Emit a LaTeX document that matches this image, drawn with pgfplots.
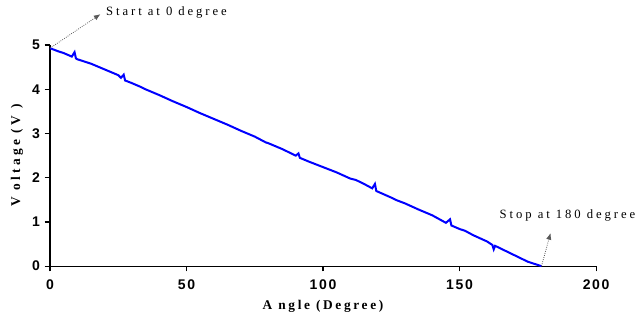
\documentclass[border=0pt]{standalone}
\usepackage{fontspec}
\setmainfont{Liberation Serif}
\newfontfamily\arialbf{Liberation Sans Bold}
\usepackage{pgfplots}
\pgfplotsset{compat=1.18}
\usetikzlibrary{arrows.meta}
\begin{document}
\begin{tikzpicture}
\begin{axis}[
  scale only axis,
  width=409.5pt, height=165.75pt,
  xmin=0, xmax=200, ymin=0, ymax=5,
  axis x line*=bottom, axis y line*=left,
  axis line style={line width=0.9pt, -},
  xtick={0,50,...,200}, ytick={0,1,...,5},
  tick align=outside, major tick length=4pt,
  tick style={line width=0.9pt, black},
  /pgf/number format/assume math mode=true,
  yticklabel style={font=\arialbf\fontsize{10.5}{12}\selectfont},
  xticklabel style={font=\arialbf\fontsize{10.5}{12}\selectfont\addfontfeatures{LetterSpace=12}, yshift=-3pt},
  xlabel={\bfseries\addfontfeatures{LetterSpace=20}A ngle (Degree)},
  ylabel={\bfseries\addfontfeatures{LetterSpace=25}V oltage (V )},
  label style={font=\fontsize{10}{12}\selectfont},
  xlabel style={yshift=-1pt},
  ylabel style={yshift=0pt},
  clip=false,
]
\addplot[color={rgb,255:red,0;green,0;blue,255}, line width=1.5pt] coordinates {
(0,4.93) (3,4.86) (5,4.82) (8,4.74) (9,4.84) (9.5,4.70) (10,4.68) (12,4.64) (15,4.58) (20,4.45)
(25,4.32) (26,4.26) (27,4.33) (27.5,4.20) (30,4.14) (33,4.06) (35,4.00) (40,3.87)
(45,3.73) (50,3.60) (55,3.46) (60,3.33) (65,3.20) (70,3.06) (75,2.93)
(79,2.80) (80,2.78) (85,2.65) (90,2.50) (91,2.55) (91.5,2.45) (95,2.36) (100,2.24)
(105,2.12) (110,1.98) (112,1.95) (115,1.86) (118,1.76) (119,1.86) (119.5,1.70)
(125,1.55) (127,1.49) (130,1.42) (135,1.28) (140,1.15) (145,0.98) (146.5,1.06)
(147,0.92) (150,0.84) (152,0.80) (155,0.70) (160,0.56) (162,0.48) (162.5,0.38)
(163,0.46) (165,0.40) (170,0.25) (175,0.10) (180,0.0)
};
\draw[densely dotted, gray!70!black, line width=0.6pt, -{Latex[length=5pt,width=4pt]}] (axis cs:0,4.93) -- (axis cs:18.5,5.70);
\node[anchor=west, font=\fontsize{9.5}{11}\selectfont\addfontfeatures{LetterSpace=23}, inner sep=0pt] at (axis cs:20.5,5.73) {Start at 0 degree};
\draw[densely dotted, gray!70!black, line width=0.6pt, -{Latex[length=5pt,width=4pt]}] (axis cs:180,0) -- (axis cs:183.3,0.75);
\node[anchor=center, font=\fontsize{9.5}{11}\selectfont\addfontfeatures{LetterSpace=23}, inner sep=0pt] at (axis cs:189.5,1.15) {Stop at 180 degree};
\coordinate (bbA) at (axis cs:-18.3,-1.31);
\coordinate (bbB) at (axis cs:215.7,6.02);
\end{axis}
\useasboundingbox (bbA) rectangle (bbB);
\end{tikzpicture}
\end{document}
